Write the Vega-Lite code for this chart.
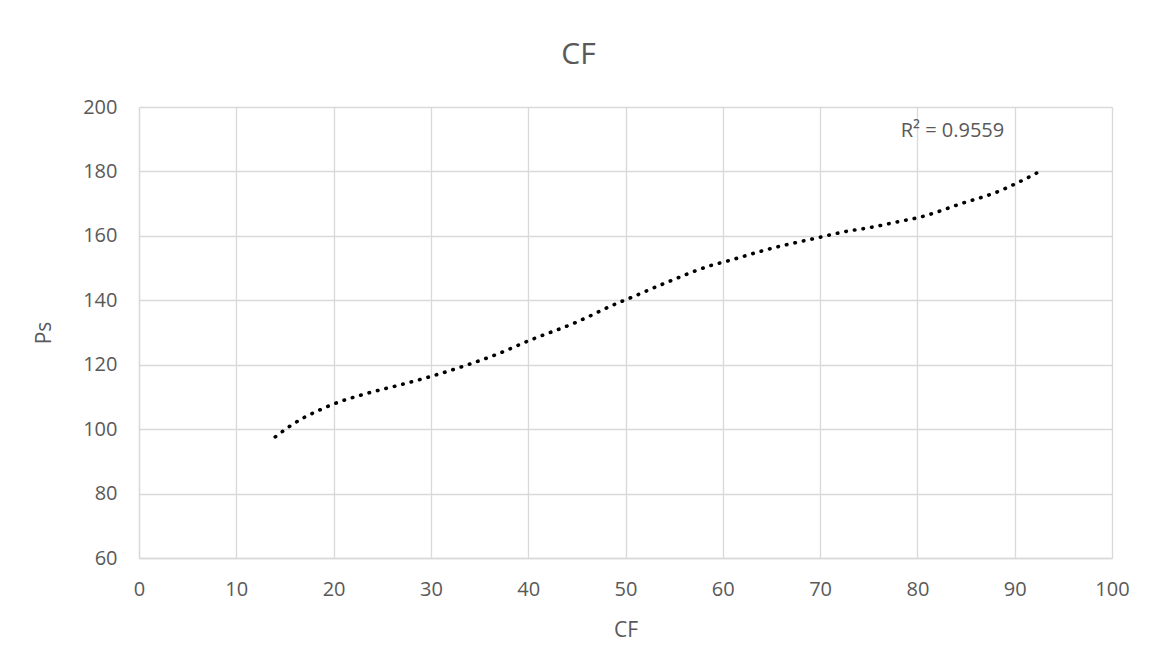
{
  "$schema": "https://vega.github.io/schema/vega-lite/v6.json",
  "autosize": "none",
  "width": 973,
  "height": 451,
  "padding": {"left": 139, "top": 107, "right": 45, "bottom": 114},
  "background": "white",
  "config": {
    "view": {"stroke": null},
    "font": "Open Sans",
    "axis": {
      "labelFont": "Open Sans",
      "titleFont": "Open Sans",
      "labelColor": "#595959",
      "titleColor": "#595959",
      "labelFontSize": 20,
      "titleFontSize": 21,
      "titleFontWeight": "normal",
      "gridColor": "#d9d9d9",
      "gridWidth": 1.3,
      "domainColor": "#d9d9d9",
      "domainWidth": 1.3,
      "ticks": false,
      "labelOverlap": false,
      "labelFlush": false
    }
  },
  "title": {
    "text": "CF",
    "fontSize": 30,
    "fontWeight": "normal",
    "font": "Open Sans",
    "color": "#595959",
    "dx": -47,
    "offset": 27
  },
  "data": {
    "values": [
      {"CF": 14.0, "Ps": 97.6},
      {"CF": 15.4, "Ps": 100.7},
      {"CF": 16.9, "Ps": 103.5},
      {"CF": 18.4, "Ps": 105.7},
      {"CF": 20.0, "Ps": 107.8},
      {"CF": 23.2, "Ps": 110.9},
      {"CF": 24.8, "Ps": 112.2},
      {"CF": 26.4, "Ps": 113.4},
      {"CF": 29.7, "Ps": 116.1},
      {"CF": 33.8, "Ps": 120.0},
      {"CF": 37.0, "Ps": 123.5},
      {"CF": 40.1, "Ps": 127.5},
      {"CF": 44.8, "Ps": 133.0},
      {"CF": 49.4, "Ps": 139.4},
      {"CF": 50.3, "Ps": 140.5},
      {"CF": 54.2, "Ps": 145.5},
      {"CF": 58.9, "Ps": 150.9},
      {"CF": 60.5, "Ps": 152.2},
      {"CF": 64.6, "Ps": 155.8},
      {"CF": 69.6, "Ps": 159.3},
      {"CF": 73.1, "Ps": 161.6},
      {"CF": 74.6, "Ps": 162.3},
      {"CF": 77.9, "Ps": 164.3},
      {"CF": 80.4, "Ps": 165.9},
      {"CF": 84.4, "Ps": 169.9},
      {"CF": 88.5, "Ps": 174.0},
      {"CF": 90.1, "Ps": 176.2},
      {"CF": 93.0, "Ps": 180.7}
    ]
  },
  "layer": [
    {
      "mark": {
        "type": "line",
        "color": "black",
        "strokeWidth": 3.6,
        "strokeCap": "round",
        "strokeDash": [0.5, 8.2],
        "interpolate": "monotone"
      },
      "encoding": {
        "x": {
          "field": "CF",
          "type": "quantitative",
          "scale": {"domain": [0, 100], "nice": false},
          "axis": {"values": [0,10,20,30,40,50,60,70,80,90,100], "labelPadding": 21, "titlePadding": 20, "title": "CF"}
        },
        "y": {
          "field": "Ps",
          "type": "quantitative",
          "scale": {"domain": [60, 200], "nice": false, "zero": false},
          "axis": {"values": [60,80,100,120,140,160,180,200], "labelPadding": 22, "titlePadding": 28, "title": "Ps"}
        }
      }
    },
    {
      "data": {"values": [{"label": "R² = 0.9559", "lx": 83.6, "ly": 192.5}]},
      "mark": {"type": "text", "font": "Open Sans", "fontSize": 20, "color": "#595959", "align": "center", "baseline": "middle"},
      "encoding": {
        "x": {"field": "lx", "type": "quantitative"},
        "y": {"field": "ly", "type": "quantitative"},
        "text": {"field": "label"}
      }
    }
  ]
}
